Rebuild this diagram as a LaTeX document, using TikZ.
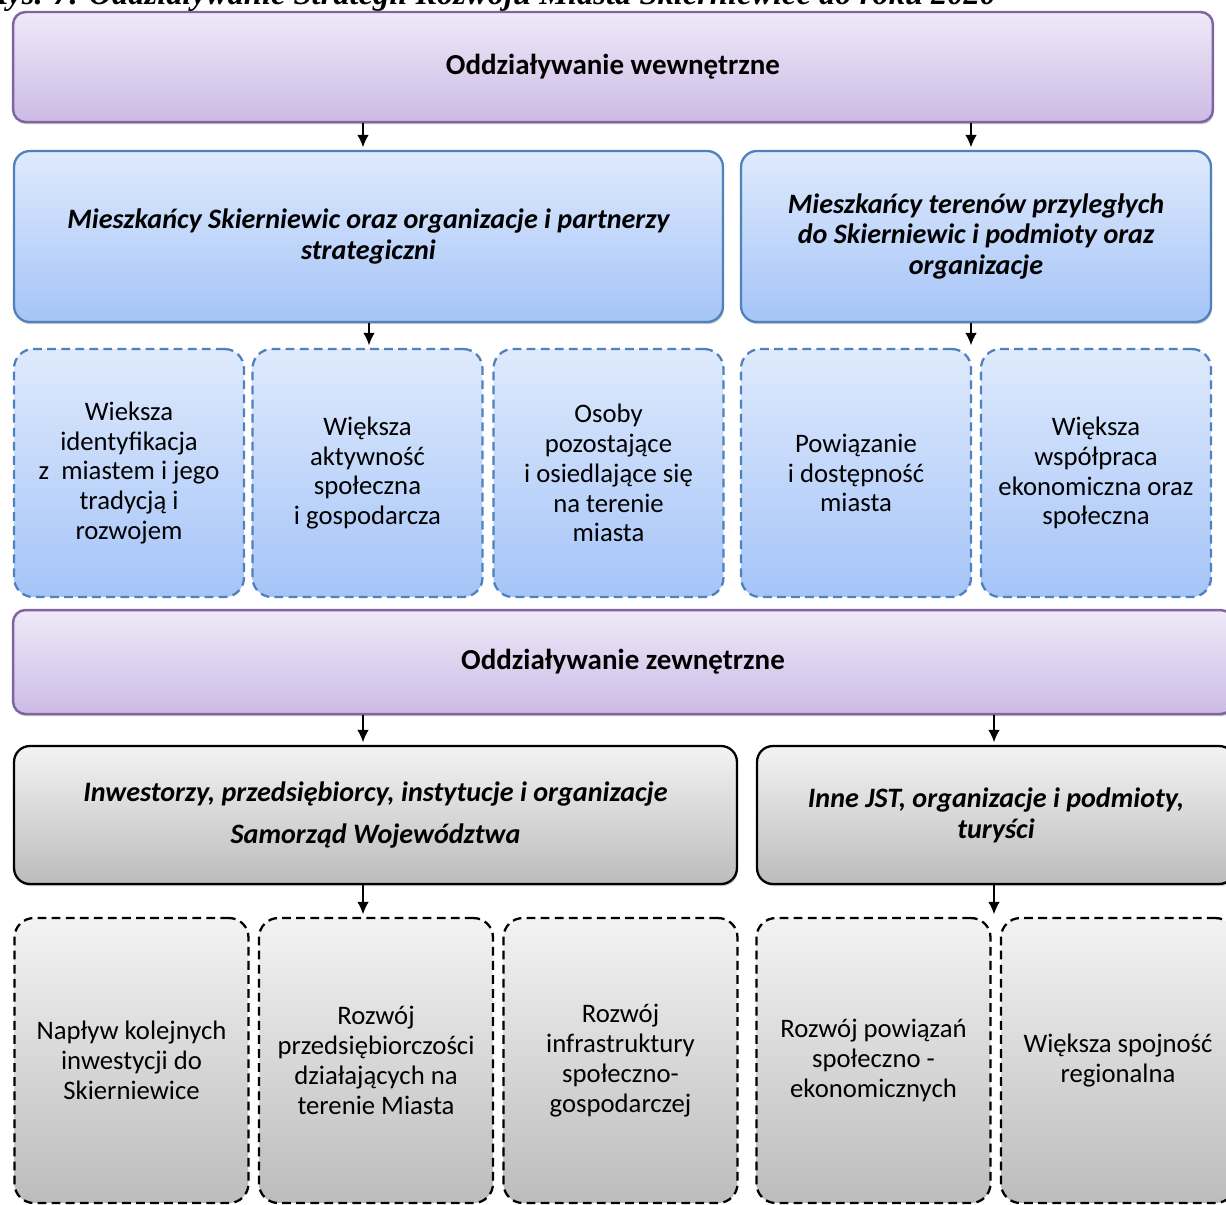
\documentclass[tikz,border=0pt]{standalone}
\usepackage{fontspec}
\setmainfont{Carlito}
\newfontfamily\titlefont{Liberation Serif}
\usetikzlibrary{arrows.meta,shadows}

\definecolor{purpleline}{RGB}{128,100,162}
\definecolor{purpletop}{RGB}{239,233,248}
\definecolor{purplebot}{RGB}{204,187,229}
\definecolor{blueline}{RGB}{79,129,189}
\definecolor{bluetop}{RGB}{223,234,252}
\definecolor{bluebot}{RGB}{165,196,248}
\definecolor{graytop}{RGB}{243,243,243}
\definecolor{graybot}{RGB}{188,188,188}

\tikzset{
  boxtext/.style={align=center, inner sep=0pt, font=\fontsize{15.2}{17}\selectfont},
  levelbox/.style={boxtext, draw=purpleline, line width=1.4pt, rounded corners=7pt,
    top color=purpletop, bottom color=purplebot, font=\fontsize{16.5}{19}\selectfont\bfseries,
    drop shadow={shadow xshift=0.6pt, shadow yshift=-1.2pt, opacity=0.5}},
  actorbox/.style={boxtext, draw=blueline, line width=1.3pt, rounded corners=9pt,
    top color=bluetop, bottom color=bluebot, font=\fontsize{16}{17.6}\selectfont\bfseries\itshape,
    minimum height=3.42cm,
    drop shadow={shadow xshift=0.6pt, shadow yshift=-1.2pt, opacity=0.4}},
  actorgray/.style={actorbox, draw=black, top color=graytop, bottom color=graybot,
    minimum height=2.76cm},
  effectbox/.style={boxtext, draw=blueline, line width=1.3pt, dash pattern=on 5pt off 3pt,
    rounded corners=11pt, top color=bluetop, bottom color=bluebot,
    minimum width=4.6cm, minimum height=4.96cm},
  effectgray/.style={effectbox, draw=black, top color=graytop, bottom color=graybot,
    minimum width=4.68cm, minimum height=5.7cm},
  flow/.style={-{Latex[length=7pt,width=6.5pt]}, line width=0.8pt, shorten >=1.5pt}
}

\begin{document}
\begin{tikzpicture}[x=0.02cm, y=-0.02cm]
\useasboundingbox (0,0) rectangle (1226,1204);
\clip (0,0) rectangle (1226,1204);

% title of the figure, cut by the page edge
\node[anchor=base west, inner sep=0pt, font=\titlefont\fontsize{18.5}{21}\selectfont\bfseries\itshape]
  (title) at (-14,4) {Rys. 7. Oddziaływanie Strategii Rozwoju Miasta Skierniewice do roku 2020};

% first level
\node[levelbox, minimum width=24cm, minimum height=2.2cm] (inner) at (613,67) {Oddziaływanie wewnętrzne};

\node[actorbox, minimum width=14.18cm] (citizens) at (368.5,236.5)
  {Mieszkańcy Skierniewic oraz organizacje i partnerzy\\strategiczni};
\node[actorbox, minimum width=9.4cm] (neighbours) at (976,236.5)
  {Mieszkańcy terenów przyległych\\do Skierniewic i podmioty oraz\\organizacje};

\node[effectbox] (identity) at (129,473)
  {Wieksza\\identyfikacja\\z~ miastem i jego\\tradycją i\\rozwojem};
\node[effectbox] (activity) at (367.5,473)
  {Większa\\aktywność\\społeczna\\i gospodarcza};
\node[effectbox] (settlers) at (608.5,473)
  {Osoby\\pozostające\\i osiedlające się\\na terenie\\miasta};
\node[effectbox] (access) at (856,473)
  {Powiązanie\\i dostępność\\miasta};
\node[effectbox] (cooperation) at (1096,473)
  {Większa\\współpraca\\ekonomiczna oraz\\społeczna};

% second level
\node[levelbox, minimum width=24.4cm, minimum height=2.08cm] (outer) at (623,662) {Oddziaływanie zewnętrzne};

\node[actorgray, minimum width=14.46cm] (investors) at (375.5,815)
  {Inwestorzy, przedsiębiorcy, instytucje i organizacje\\[6pt]Samorząd Województwa};
\node[actorgray, minimum width=9.56cm] (others) at (996,815)
  {Inne JST, organizacje i podmioty,\\turyści};

\node[effectgray] (inflow) at (131.5,1060.5)
  {Napływ kolejnych\\inwestycji do\\Skierniewice};
\node[effectgray] (business) at (376,1060.5)
  {Rozwój\\przedsiębiorczości\\działających na\\terenie Miasta};
\node[effectgray] (infra) at (620.5,1060.5)
  {Rozwój\\infrastruktury\\społeczno-\\gospodarczej};
\node[effectgray] (links) at (873.5,1060.5)
  {Rozwój powiązań\\społeczno -\\ekonomicznych};
\node[effectgray] (cohesion) at (1118,1060.5)
  {Większa spojność\\regionalna};

% arrows
\coordinate (lx) at (363,0);
\coordinate (mx) at (369,0);
\coordinate (rx) at (971,0);
\coordinate (sx) at (994,0);
\draw[flow] (inner.south -| lx) -- (citizens.north -| lx);
\draw[flow] (inner.south -| rx) -- (neighbours.north -| rx);
\draw[flow] (citizens.south -| mx) -- (activity.north -| mx);
\draw[flow] (neighbours.south -| rx) -- (access.north -| rx);
\draw[flow] (outer.south -| lx) -- (investors.north -| lx);
\draw[flow] (outer.south -| sx) -- (others.north -| sx);
\draw[flow] (investors.south -| lx) -- (business.north -| lx);
\draw[flow] (others.south -| sx) -- (cohesion.north -| sx);
\end{tikzpicture}
\end{document}
